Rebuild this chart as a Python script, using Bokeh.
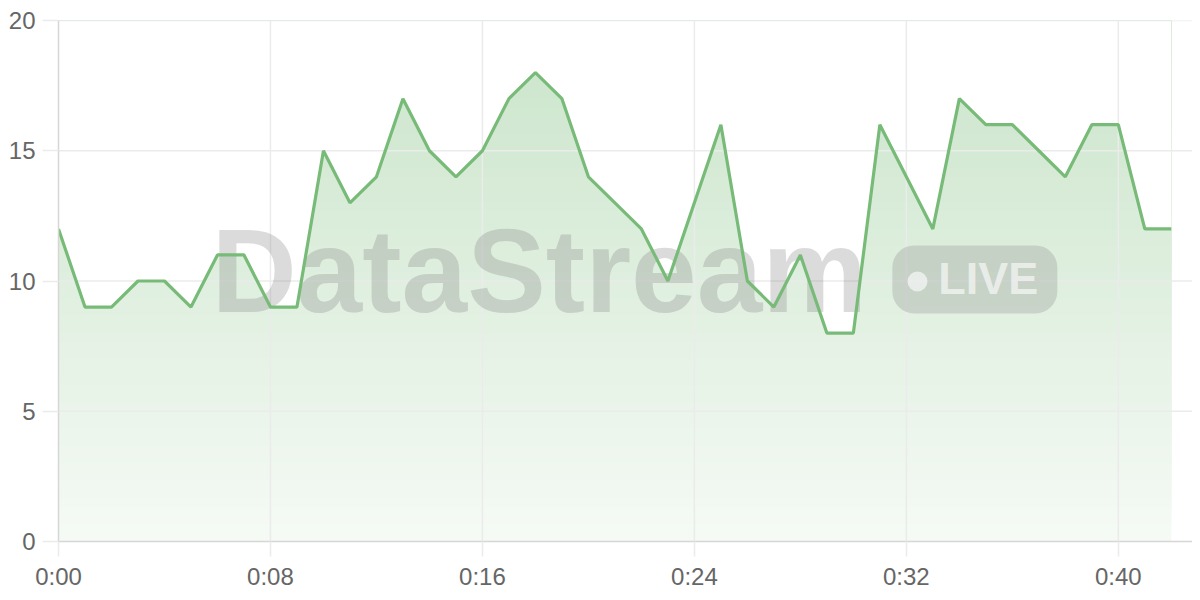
import numpy as np

from bokeh.plotting import figure
from bokeh.models import Range1d, FixedTicker
from bokeh.core.properties import value
from bokeh.embed import file_html
from bokeh.resources import INLINE

# minutes since start and the reading at each minute
minutes = list(range(43))
readings = [12, 9, 9, 10, 10, 9, 11, 11, 9, 9, 15, 13, 14, 17, 15, 14, 15, 17, 18, 17,
            14, 13, 12, 10, 13, 16, 10, 9, 11, 8, 8, 16, 14, 12, 17, 16, 16, 15, 14, 16,
            16, 12, 12]

x_ticks = [0, 8, 16, 24, 32, 40]
x_tick_labels = ["0:00", "0:08", "0:16", "0:24", "0:32", "0:40"]
y_ticks = [0, 5, 10, 15, 20]

GREEN = (120, 187, 120)
LINE = "#78bb78"
GRID = "#ebebeb"
X_END = 42.8
Y_END = 20


def tint(alpha):
    # green blended over white, as an opaque colour
    r, g, b = (round(255 + (c - 255) * alpha) for c in GREEN)
    return "#%02x%02x%02x" % (r, g, b)


p = figure(width=1192, height=592, output_backend="svg", toolbar_location=None,
           x_range=Range1d(0, X_END), y_range=Range1d(0, Y_END),
           min_border_left=58, min_border_right=0, min_border_top=20, min_border_bottom=49)
p.outline_line_color = None
p.xgrid.visible = False
p.ygrid.visible = False

# vertical gradient under the curve: opaque bands stacked bottom-up, then a white mask above the line
n_bands = 60
bottoms = [Y_END * k / n_bands for k in range(n_bands)]
colors = [tint(0.07 + 0.33 * (b + Y_END / n_bands / 2) / Y_END) for b in bottoms]
p.quad(left=minutes[0], right=minutes[-1], bottom=bottoms, top=Y_END,
       fill_color=colors, fill_alpha=1, line_color=None)
p.varea(x=minutes, y1=readings, y2=[Y_END] * len(minutes), fill_color="white", fill_alpha=1)

# grid lines (drawn as glyphs so they sit above the mask)
p.segment(x0=0, x1=X_END, y0=y_ticks[1:], y1=y_ticks[1:], line_color=GRID, line_width=1.5)
p.segment(x0=x_ticks[1:], x1=x_ticks[1:], y0=0, y1=Y_END, line_color=GRID, line_width=1.5)

# watermark
p.text(x=[5.77], y=[10.4], text=["DataStream"], text_font=value("Liberation Sans"),
       text_font_style="bold", text_font_size="118px", text_color="#888888", text_alpha=0.3,
       text_align="left", text_baseline="alphabetic")
p.text(x=[31.47], y=[10.06], text=["LIVE"], text_font=value("Liberation Sans"),
       text_font_style="bold", text_font_size="45px", text_color="white", text_alpha=0.6,
       text_align="left", text_baseline="middle",
       background_fill_color="#888888", background_fill_alpha=0.28,
       padding=dict(left=46, right=19, top=8, bottom=9), border_radius=22)
p.scatter(x=[32.42], y=[9.98], size=20, marker="circle", fill_color="white",
          fill_alpha=0.6, line_color=None)

# the series
p.line(minutes, readings, line_color=LINE, line_width=3.2)

for ax in (p.xaxis, p.yaxis):
    ax.axis_line_color = "#d6d6d6"
    ax.axis_line_width = 1.5
    ax.major_tick_line_color = GRID
    ax.major_tick_line_width = 1.5
    ax.major_tick_in = 0
    ax.minor_tick_line_color = None
    ax.major_label_text_font = "Liberation Sans"
    ax.major_label_text_font_size = "24px"
    ax.major_label_text_color = "#666666"

p.xaxis.ticker = FixedTicker(ticks=x_ticks)
p.xaxis.major_label_overrides = dict(zip(x_ticks, x_tick_labels))
p.xaxis.major_tick_out = 15
p.xaxis.major_label_standoff = 6
p.yaxis.ticker = FixedTicker(ticks=y_ticks)
p.yaxis.major_tick_out = 16
p.yaxis.major_label_standoff = 7

open("out.html", "w").write(file_html(p, INLINE))
